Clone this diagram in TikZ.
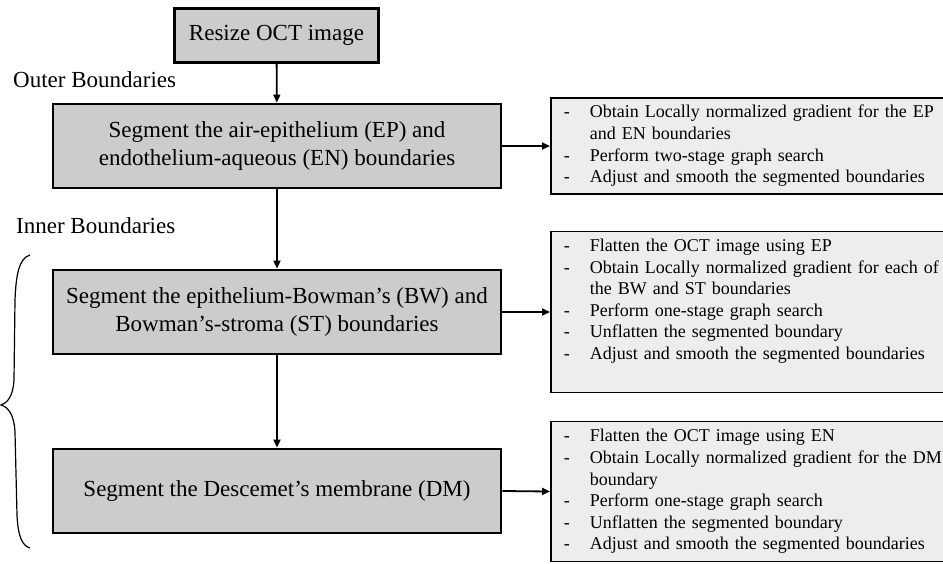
\documentclass[tikz,border=0pt]{standalone}
\usepackage{fontspec}
\setmainfont{Liberation Serif}
\usetikzlibrary{arrows.meta}

\begin{document}
\begin{tikzpicture}[x=1pt, y=-1pt,
    stepbox/.style={draw=black, line width=2.8pt, fill=black!20, align=center,
      minimum width=448pt, minimum height=84pt, inner sep=0pt,
      font=\fontsize{23}{28}\selectfont},
    notebox/.style={draw=black, line width=1.8pt, fill=black!7, anchor=west,
      align=left, text width=374pt, inner xsep=13pt, inner ysep=0pt,
      font=\fontsize{18}{21.6}\selectfont},
    grouptext/.style={anchor=base west, inner sep=0pt,
      font=\fontsize{23}{28}\selectfont},
    flow/.style={-{Triangle[length=8pt, width=7pt]}, line width=1.8pt}]
        \useasboundingbox (0,0) rectangle (943,563);

        % Main steps
        \node[stepbox, minimum width=204pt, minimum height=54pt] (resize) at (276.5, 35.5) {Resize OCT image};
        \node[stepbox] (outer) at (277, 146) {Segment the air-epithelium (EP) and\\endothelium-aqueous (EN) boundaries};
        \node[stepbox] (bwst) at (277, 312) {Segment the epithelium-Bowman’s (BW) and\\Bowman’s-stroma (ST) boundaries};
        \node[stepbox] (dm) at (277, 491) {Segment the Descemet’s membrane (DM)};

        % Group labels
        \node[grouptext] (outerlbl) at (13, 87) {Outer Boundaries};
        \node[grouptext] (innerlbl) at (16, 233) {Inner Boundaries};

        % Details of each step
        \node[notebox, minimum height=96pt] (noteep) at (550, 146) {%
          \begin{tabular}{@{}p{26pt}@{}l@{}}
            - & Obtain Locally normalized gradient for the EP\\
              & and EN boundaries\\
            - & Perform two-stage graph search\\
            - & Adjust and smooth the segmented boundaries
          \end{tabular}};
        \node[notebox, minimum height=161pt] (notebw) at (550, 312) {%
          \begin{tabular}{@{}p{26pt}@{}l@{}}
            - & Flatten the OCT image using EP\\
            - & Obtain Locally normalized gradient for each of\\
              & the BW and ST boundaries\\
            - & Perform one-stage graph search\\
            - & Unflatten the segmented boundary\\
            - & Adjust and smooth the segmented boundaries\\
              &
          \end{tabular}};
        \node[notebox, minimum height=140pt] (notedm) at (550, 491.5) {%
          \begin{tabular}{@{}p{26pt}@{}l@{}}
            - & Flatten the OCT image using EN\\
            - & Obtain Locally normalized gradient for the DM\\
              & boundary\\
            - & Perform one-stage graph search\\
            - & Unflatten the segmented boundary\\
            - & Adjust and smooth the segmented boundaries
          \end{tabular}};

        % Flow
        \draw[flow] (resize) -- (outer);
        \draw[flow] (outer) -- (bwst);
        \draw[flow] (bwst) -- (dm);
        \draw[flow] (outer.east) -- (noteep.west);
        \draw[flow] (bwst.east) -- (notebw.west);
        \draw[flow] (dm.east) -- (notedm.west);

        % Brace over the inner boundaries
        \draw[line width=1.2pt] (30, 255) .. controls (19, 258) and (16, 275) .. (15, 300)
          -- (14, 380) .. controls (13, 397) and (7, 403) .. (1, 405)
          .. controls (8, 407) and (14, 414) .. (15, 432)
          -- (17, 515) .. controls (18, 538) and (23, 546) .. (30, 548);
    \end{tikzpicture}
\end{document}
